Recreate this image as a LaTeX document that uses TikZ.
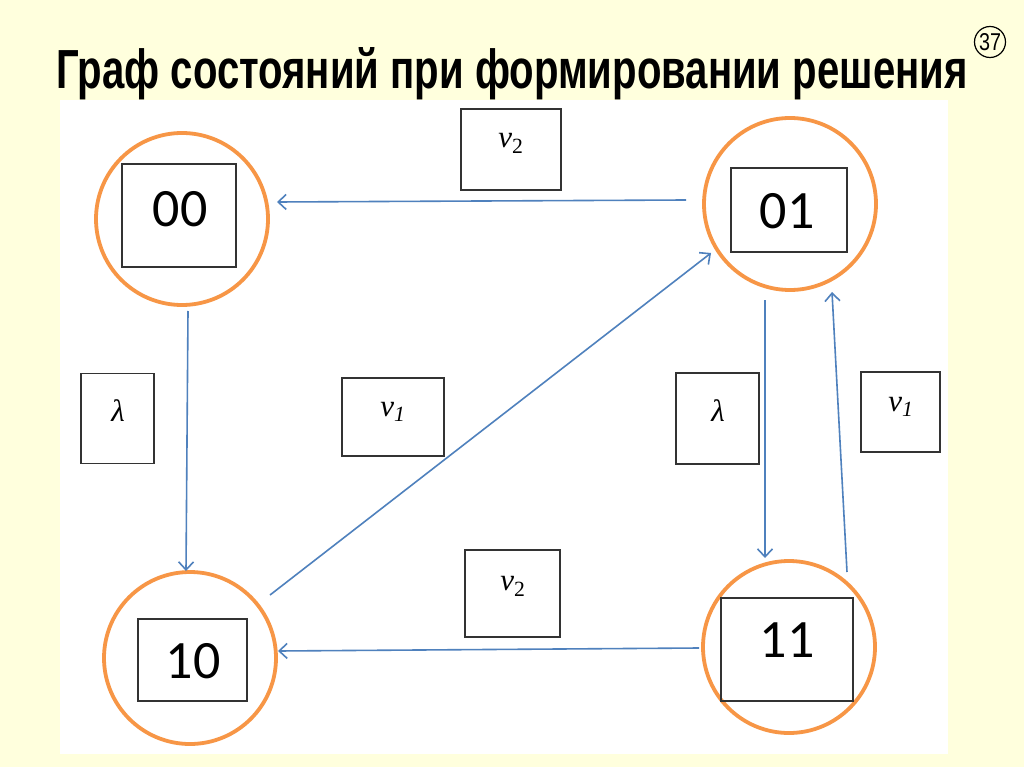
\documentclass[tikz,border=0pt]{standalone}
\usepackage{fontspec}
\setmainfont{Liberation Sans}
\newfontfamily\digitfont{Carlito}
\newfontfamily\labfont{Liberation Serif}
\newfontfamily\titlefont{Liberation Sans}
\usetikzlibrary{arrows.meta}
\definecolor{bgyellow}{HTML}{FFFFDD}
\definecolor{ringorange}{HTML}{F79646}
\definecolor{arrowblue}{HTML}{4F81BD}
\tikzset{
  ring/.style={circle, draw=ringorange, line width=3.8pt, minimum size=172pt, inner sep=0pt},
  statebox/.style={draw=black!80, line width=1.1pt, inner sep=0pt},
  statetext/.style={font=\digitfont\fontsize{54}{54}\selectfont, inner sep=0pt},
  labbox/.style={draw=black!80, line width=1.2pt, inner sep=0pt},
  labtext/.style={font=\labfont\itshape\fontsize{31}{31}\selectfont, inner sep=0pt},
  conn/.style={draw=arrowblue, line width=1.6pt, -{Straight Barb[length=8pt,width=15pt,line width=1.6pt]}},
}
\begin{document}
\begin{tikzpicture}[x=1pt,y=-1pt]
\fill[bgyellow] (0,0) rectangle (1024,767);
\useasboundingbox (0,0) rectangle (1024,767);
\fill[white] (60,100) rectangle (948,754);
% title
\node[anchor=base, inner sep=0pt] (title) at (512,89)
  {\resizebox{911pt}{41pt}{\titlefont\bfseries Граф состояний при формировании решения}};
\node[circle, draw=black, line width=1.2pt, minimum size=31pt, inner sep=0pt,
  font=\titlefont\fontsize{21}{21}\selectfont] (pnum) at (990,42) {\resizebox{22pt}{17pt}{37}};
% states
\node[ring] (s00) at (182,219) {};
\node[ring] (s01) at (790,204) {};
\node[ring] (s10) at (190,658) {};
\node[ring] (s11) at (789,647) {};
\node[statebox, minimum width=114pt, minimum height=103pt] (b00) at (179,215.5) {};
\node[statebox, minimum width=116pt, minimum height=84pt] (b01) at (789,210) {};
\node[statebox, minimum width=109pt, minimum height=82pt] (b10) at (192.5,660) {};
\node[statebox, minimum width=132pt, minimum height=103pt] (b11) at (787,649.5) {};
\node[statetext] (t00) at (180,209) {00};
\node[statetext] (t01) at (787,211) {01};
\node[statetext] (t10) at (193,661) {10};
\node[statetext] (t11) at (787,640) {11};
% labels
\node[labbox, minimum width=100pt, minimum height=81pt] (l1) at (511,149.5) {};
\node[labtext] (lt1) at (511,143) {v\textsubscript{\upshape 2}};
\node[labbox, minimum width=73pt, minimum height=90pt] (l2) at (117.5,418.5) {};
\node[labtext] (lt2) at (118,411) {λ};
\node[labbox, minimum width=102pt, minimum height=78pt] (l3) at (393,417) {};
\node[labtext] (lt3) at (393,412) {v\textsubscript{1}};
\node[labbox, minimum width=83pt, minimum height=91pt] (l4) at (717.5,418.5) {};
\node[labtext] (lt4) at (718,411) {λ};
\node[labbox, minimum width=79pt, minimum height=80pt] (l5) at (900.5,412) {};
\node[labtext] (lt5) at (901,407) {v\textsubscript{1}};
\node[labbox, minimum width=95pt, minimum height=87pt] (l6) at (512.5,593.5) {};
\node[labtext] (lt6) at (513,586) {v\textsubscript{\upshape 2}};
% connector end points
\coordinate (a1s) at (686,200); \coordinate (a1e) at (277,202);
\coordinate (a2s) at (188,311); \coordinate (a2e) at (186,571);
\coordinate (a3s) at (270,595); \coordinate (a3e) at (711,253);
\coordinate (a4s) at (765,300); \coordinate (a4e) at (765,558);
\coordinate (a5s) at (847,572); \coordinate (a5e) at (832,292);
\coordinate (a6s) at (699,648); \coordinate (a6e) at (278,651);
\draw[conn] (a1s) -- (a1e);
\draw[conn] (a2s) -- (a2e);
\draw[conn] (a3s) -- (a3e);
\draw[conn] (a4s) -- (a4e);
\draw[conn] (a5s) -- (a5e);
\draw[conn] (a6s) -- (a6e);
\end{tikzpicture}
\end{document}
